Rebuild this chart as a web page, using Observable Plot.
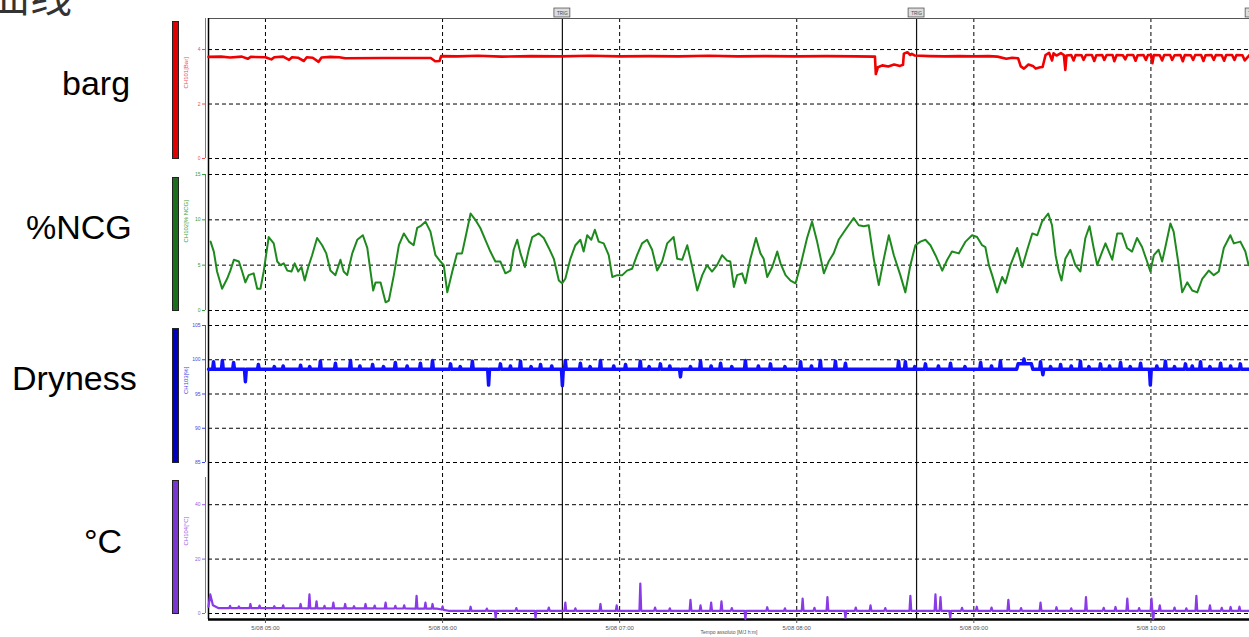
<!DOCTYPE html>
<html><head><meta charset="utf-8">
<script src="https://cdn.jsdelivr.net/npm/d3@7"></script>
<script src="https://cdn.jsdelivr.net/npm/@observablehq/plot@0.6"></script>
<style>
body{margin:0;width:1249px;height:637px;overflow:hidden;background:#fff;position:relative;font-family:"Liberation Sans",Arial,sans-serif;}
.big{position:absolute;font-size:34px;line-height:1;color:#000;white-space:nowrap;}
.bar{position:absolute;width:5px;border:1px solid #222;box-sizing:content-box;}
.layer{position:absolute;left:0;}
svg{overflow:visible;}
</style></head><body>
<div style="position:absolute;left:-12px;top:-27px;font-size:42px;line-height:1;color:#333;font-family:'Noto Sans CJK SC',sans-serif;">曲线</div>
<div class="big" style="left:62px;top:66px">barg</div>
<div class="big" style="left:26px;top:210px">%NCG</div>
<div class="big" style="left:12px;top:361px">Dryness</div>
<div class="big" style="left:84px;top:524px">°C</div>
<div id="root"></div>
<script>
// ---------- time axis (minutes since midnight) ----------
const xDomain = [280.7, 633.4];
const hourTicks = [300, 360, 420, 480, 540, 600];
const hourLabels = ["5/08 05:00", "5/08 06:00", "5/08 07:00", "5/08 08:00", "5/08 09:00", "5/08 10:00"];
const trigTimes = [400.6, 520.6, 634.8];
const xTitle = "Tempo assoluto [M/J h:m]";

// ---------- channel labels ----------
const channelLabels = ["CH101[Bar]", "CH102[% NCG]", "CH103[%]", "CH104[°C]"];

// ---------- CH101 pressure (barg) ----------
const barT = [280.7,285,288,292,294,295,300,302,303,306,308,309,311,313,314,316,318,319,322,325,327,340,352,356,357.5,359,359.5,365,372,380,390,400,410,420,430,440,450,460,470,480,490,500,506.5,506.8,507.5,509,511,513,515,516,516.3,517.5,518.5,519,520,525,530,535,540,545,548,551,553,555,555.9,557,558.5,560,561,562.5,563.3,564.3,565.5,566.5,567,568,569.5,570.5,571,571.4,
573,573.8,574.5,576.5,577.2,578,580,580.8,581.5,583.5,584.2,585,587,587.6,588.4,590.5,591.3,592,594,594.8,595.5,597.5,598.3,599,600,600.5,601,603,603.8,604.5,606.5,607.2,608,610,610.8,611.5,613.5,614.3,615,617,617.8,618.5,620.5,621.3,622,624,624.8,625.5,627.5,628.3,629,631,631.8,633.4];
const barV = [3.73,3.74,3.71,3.74,3.66,3.73,3.72,3.64,3.72,3.74,3.62,3.72,3.70,3.58,3.72,3.70,3.55,3.71,3.73,3.72,3.68,3.69,3.69,3.69,3.57,3.58,3.76,3.75,3.77,3.74,3.76,3.75,3.77,3.75,3.76,3.75,3.77,3.75,3.76,3.75,3.76,3.75,3.74,3.1,3.35,3.42,3.38,3.45,3.4,3.44,3.85,3.9,3.8,3.84,3.78,3.76,3.75,3.76,3.75,3.76,3.74,3.66,3.7,3.68,3.38,3.3,3.45,3.4,3.3,3.35,3.36,3.8,3.88,3.6,3.86,3.78,3.87,3.8,3.25,3.78,
3.8,3.6,3.8,3.79,3.62,3.8,3.8,3.58,3.79,3.8,3.62,3.8,3.8,3.57,3.8,3.79,3.64,3.8,3.8,3.59,3.79,3.8,3.62,3.8,3.8,3.5,3.8,3.79,3.6,3.8,3.8,3.62,3.79,3.8,3.57,3.8,3.79,3.62,3.8,3.8,3.58,3.79,3.8,3.62,3.8,3.79,3.59,3.8,3.8,3.62,3.8,3.79,3.6,3.8];

// ---------- CH102 NCG (%) ----------
const ncgT = [281.4,282.5,283.6,285.3,287.0,288.1,289.3,291.0,292.1,293.2,294.3,296.0,297.2,298.3,299.4,301.1,302.8,304.0,305.1,306.2,307.4,308.8,309.9,311.1,312.2,313.3,314.5,315.8,317.5,319.2,320.6,322.0,323.7,325.4,326.5,327.7,329.4,331.1,333.0,334.5,335.6,336.5,337.3,339.0,340.7,341.8,343.5,345.2,346.9,348.6,350.2,351.4,352.5,354.2,355.9,357.6,359.3,360.4,361.6,363.3,364.9,366.6,367.8,369.5,
371.1,372.8,374.5,376.2,377.9,379.6,381.3,383.0,384.1,385.3,386.4,387.9,389.2,390.4,392.6,394.3,396.0,397.7,399.4,400.5,401.6,403.3,405.0,406.7,407.8,409.0,410.4,411.6,412.9,414.6,416.3,417.5,419.2,420.9,422.5,424.2,425.9,427.6,429.3,431.0,432.7,434.4,436.1,438.3,439.5,441.2,442.9,444.6,446.3,448.0,449.6,451.3,453.0,454.7,456.4,
457.5,458.7,459.8,461.5,462.6,464.3,466.2,467.7,468.8,470.0,471.7,473.4,474.5,476.2,477.9,479.6,481.3,483.5,485.2,486.9,489.2,490.8,492.5,494.2,496.5,499.3,501.0,502.7,504.4,506.1,507.8,509.5,511.2,512.9,515.1,516.8,518.5,520.2,521.9,523.6,525.3,527.0,529.3,531.0,532.6,534.9,537.2,539.4,541.1,542.8,543.9,545.1,
546.2,547.9,549.6,550.7,552.4,554.7,556.4,558.1,559.8,561.5,563.1,565.2,566.5,567.7,568.8,569.7,571.0,572.7,574.4,576.1,577.8,579.2,580.6,581.8,583.5,584.6,586.9,588.6,590.2,591.9,593.6,595.3,597.0,598.7,599.8,601.0,602.6,603.8,604.9,606.6,607.7,609.4,610.6,612.3,614.0,615.7,617.4,619.6,621.3,623.0,624.7,626.9,628.1,630.3,632.0,633.1];
const ncgV = [7.6,6.5,4.3,2.4,3.5,4.4,5.6,5.4,4.3,3.1,3.9,4.1,2.4,2.4,4.3,8.1,7.4,5.4,5.0,5.2,4.4,4.3,5.2,4.3,4.8,3.3,4.8,6.1,8.0,7.2,6.3,4.4,3.9,5.6,4.3,3.9,6.3,7.8,8.3,6.9,4.3,2.2,3.1,3.1,0.9,1.1,3.9,7.2,8.5,7.6,7.2,9.1,9.3,9.8,8.7,6.1,5.4,5.0,2.0,4.3,6.3,6.3,8.1,10.7,
10.0,9.1,7.8,6.5,5.4,5.4,4.1,4.4,6.7,7.8,6.3,4.8,6.7,8.1,8.5,8.0,6.9,5.7,3.3,3.0,3.5,5.7,7.2,7.8,6.5,8.3,7.8,8.9,7.6,7.4,6.1,3.7,3.9,3.9,4.4,4.6,6.1,7.4,7.8,6.7,4.4,5.4,7.4,8.1,5.7,5.6,7.2,4.8,2.2,3.9,5.0,4.3,5.0,6.1,5.5,
5.4,2.6,3.9,4.1,3.0,5.7,8.0,6.3,5.7,3.7,4.8,6.5,5.2,3.9,3.3,3.0,5.0,8.0,9.8,7.6,4.1,5.4,6.3,7.8,8.9,10.2,9.4,9.3,9.4,5.7,2.8,5.7,8.3,6.1,3.9,2.0,5.0,7.2,7.6,7.8,7.2,6.1,4.4,5.6,6.5,6.3,7.6,8.3,8.1,7.2,7.0,5.0,
3.9,2.0,3.7,3.0,5.0,6.9,4.8,6.7,8.5,8.3,9.8,10.7,9.4,6.1,4.3,3.3,5.7,6.7,5.0,4.3,8.0,9.3,6.9,5.0,6.5,7.4,5.6,8.5,8.5,6.9,6.5,8.0,7.0,5.4,4.3,6.1,6.7,5.4,7.0,9.6,8.7,5.0,2.0,3.1,2.2,2.0,3.5,4.4,3.9,4.3,6.9,8.3,7.4,7.6,6.5,5.0];

// ---------- CH103 dryness (%) : baseline + spikes ----------
const dryBaseT = [280.7, 554.5, 555, 559.5, 560, 633.4];
const dryBaseV = [98.6, 98.6, 99.4, 99.4, 98.6, 98.6];
const drySpikeT = [282.4,285.4,289.2,293.2,297.6,303,306,311.9,315,318.6,323.7,328.8,332,336.3,340,344,348,352.5,356.6,362.7,366,370.1,375.6,379.6,383,386.4,390,393.2,397,400.6,401.6,406.7,410,413.5,418,422,427,430,433.8,437,440.6,444,447.4,451,454.2,458,462.6,467,471.1,476,481.3,485,488,493.1,496.5,514.5,516.8,520,523.6,528,532.1,537,542.3,546,549,557,562.6,563.4,566,569.4,573,576.1,579,582.9,586,589.7,593,596.5,599.8,602,604.9,608,611.7,614,616.8,620,623.6,627,630.3];
const drySpikeV = [99.7,99.9,99.6,96.8,99.3,99.0,99.1,99.2,99.0,99.8,99.5,99.9,99.1,99.3,99.0,99.6,99.1,99.5,99.9,99.4,99.0,99.8,96.3,99.4,99.1,99.8,99.0,99.3,99.1,96.2,99.9,99.5,99.0,99.9,99.1,99.3,99.8,99.0,99.4,99.1,97.5,99.0,99.8,99.1,99.5,99.0,99.9,99.1,99.4,99.0,99.7,99.1,99.9,99.8,99.5,99.8,99.7,99.0,99.4,99.1,99.5,99.0,99.6,99.1,99.8,100.1,99.7,97.8,99.0,99.3,99.1,99.8,99.0,99.4,99.1,99.6,99.0,99.5,96.3,99.1,99.8,99.0,99.4,99.1,99.7,99.0,99.5,99.1,99.4];

// ---------- CH104 temperature (°C) : baseline + spikes ----------
const tempBaseT = [280.7, 281.3, 282.2, 284, 358, 362, 633.4];
const tempBaseV = [2.5, 7, 3, 2.0, 1.8, 1.0, 1.0];
const tempSpikeT = [288,291,294.9,298,303,306,311.9,314.9,317.3,320,323,327,330,333.9,337,340.7,344,347,351.2,354.2,356.6,360,369.5,375,378,385,391.5,396,401.6,405,413.5,419,427,432,437,444,447.4,451,454.5,458,462.6,470,476,482,486,490.4,496.5,500,505,510,518.5,527,528.7,532,536,541,546,551.7,556,562.6,568,573,578,584,588,592,596,600.2,600.8,603,608,612,615.4,620,624,627,630];
const tempSpikeV = [2.8,2.6,3.5,2.9,2.7,3.0,3.5,7,4.5,2.8,4,3.5,2.7,3.5,2.9,4,2.8,3.0,6.5,4,3.5,2.6,2.5,1.8,-1.5,2.0,-1.5,2.2,4,1.9,3.5,3,11,2.2,1.9,5,3,4,4.5,2.0,-2,2.3,1.9,5.5,2.1,6,-1.5,2.2,3,2.0,6.5,7,6,-1.5,2.1,2.5,2.2,5,2.0,4,2.3,1.9,6,2.1,2.4,5.5,2.0,5.5,-2,3,2.2,1.9,6.5,3,2.1,2.4,2.5];

// ---------- helpers ----------
function pairs(T, V) { return T.map((t, i) => ({t, v: V[i]})); }
function spiky(bT, bV, sT, sV) {
  const base = d3.scaleLinear().domain(bT).range(bV);
  const pts = pairs(bT, bV);
  sT.forEach((t, i) => {
    pts.push({t: t - 0.3, v: base(t - 0.3)}, {t, v: sV[i]}, {t: t + 0.3, v: base(t + 0.3)});
  });
  return pts.sort((a, b) => a.t - b.t);
}

const W = 1249, ML = 208;
const font = "Liberation Sans, Arial, sans-serif";
const root = document.getElementById("root");

// ---------- background frame: vertical grid, trig lines, x axis ----------
const bg = Plot.plot({
  width: W, height: 637, marginLeft: ML, marginRight: 0, marginTop: 18, marginBottom: 18,
  style: {background: "transparent", fontFamily: font, overflow: "visible"},
  x: {domain: xDomain, axis: null},
  y: {domain: [0, 1], axis: null},
  marks: [
    Plot.ruleX(hourTicks, {stroke: "#000", strokeWidth: 1, strokeDasharray: "4,3"}),
    Plot.ruleX(trigTimes.slice(0, 2), {stroke: "#111", strokeWidth: 1.2}),
    Plot.ruleY([1], {stroke: "#555", strokeWidth: 1.2}),
    Plot.ruleY([0], {stroke: "#000", strokeWidth: 2.5}),
    Plot.ruleX([xDomain[0]], {stroke: "#000", strokeWidth: 1.5}),
    Plot.axisX({ticks: hourTicks, tickFormat: (d, i) => hourLabels[i], tickSize: 4, tickPadding: 2, fontSize: 6, color: "#555", label: null}),
    Plot.text([xTitle], {frameAnchor: "bottom", dy: 14, fontSize: 5, fill: "#555"}),
    Plot.rect(trigTimes, {x1: d => d - 2.7, x2: d => d + 2.7, y1: 1.0017, y2: 1.0166, fill: "#ddd", stroke: "#555", strokeWidth: 0.8}),
    Plot.text(trigTimes, {x: d => d, y: 1.009, text: () => "TRIG", fontSize: 4.5, fill: "#444"})
  ]
});
bg.classList.add("layer"); bg.style.top = "0px";
root.appendChild(bg);

// ---------- panels ----------
function panel(o) {
  const m = 6;
  const svg = Plot.plot({
    width: W, height: o.bottom - o.top + 2 * m, marginLeft: ML, marginRight: 0, marginTop: m, marginBottom: m,
    style: {background: "transparent", fontFamily: font, overflow: "visible"},
    x: {domain: xDomain, axis: null},
    y: {domain: o.domain, axis: null},
    marks: [
      Plot.gridY({ticks: o.ticks, stroke: "#000", strokeOpacity: 1, strokeDasharray: "4,3"}),
      Plot.ruleX([xDomain[0]], {dx: -3, stroke: o.axisColor, strokeWidth: 1}),
      Plot.axisY({ticks: o.ticks, tickFormat: d => String(d), dx: -3, tickSize: 3, tickPadding: 2, fontSize: 5, color: o.axisColor, label: null}),
      Plot.line(o.data, {x: "t", y: "v", stroke: o.color, strokeWidth: o.sw}),
      Plot.text([o.label], {frameAnchor: "left", dx: -22, rotate: -90, fill: o.axisColor, fontSize: 6})
    ]
  });
  svg.classList.add("layer"); svg.style.top = (o.top - m) + "px";
  root.appendChild(svg);
  const bar = document.createElement("div");
  bar.className = "bar";
  bar.style.left = "172px"; bar.style.top = (o.top + 3) + "px";
  bar.style.height = (o.bottom - o.top - 4) + "px"; bar.style.background = o.barColor;
  document.body.appendChild(bar);
}

panel({top: 18, bottom: 158, domain: [0, 5.14], ticks: [0, 2, 4], color: "#f00000", axisColor: "#e85050", barColor: "#e00000", sw: 2.6, data: pairs(barT, barV), label: channelLabels[0]});
panel({top: 174, bottom: 310, domain: [0, 15], ticks: [0, 5, 10, 15], color: "#1e8a1e", axisColor: "#3a9a3a", barColor: "#1b6e1b", sw: 2, data: pairs(ncgT, ncgV), label: channelLabels[1]});
panel({top: 325, bottom: 462, domain: [85, 105], ticks: [85, 90, 95, 100, 105], color: "#1010ff", axisColor: "#4545e0", barColor: "#0000c0", sw: 3.5, data: spiky(dryBaseT, dryBaseV, drySpikeT, drySpikeV), label: channelLabels[2]});
panel({top: 477, bottom: 613, domain: [0, 50], ticks: [0, 20, 40], color: "#8a3ae6", axisColor: "#9a5ae6", barColor: "#7a36d0", sw: 2.2, data: spiky(tempBaseT, tempBaseV, tempSpikeT, tempSpikeV), label: channelLabels[3]});
</script>
</body></html>
